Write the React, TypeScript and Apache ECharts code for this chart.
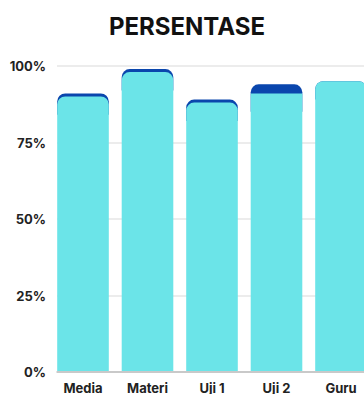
import React, { useEffect, useRef } from "react";
import * as echarts from "echarts";

const categories = ["Media", "Materi", "Uji 1", "Uji 2", "Guru"];
const baseValues = [90, 98, 88, 91, 95];
const totalValues = [91, 99, 89, 94, 95];
const yTicks = [0, 25, 50, 75, 100];

const CYAN = "#6be4e8";
const DARK = "#0a46ad";
const FONT = "Inter, 'DejaVu Sans', sans-serif";

export default function App() {
  const ref = useRef<HTMLDivElement>(null);
  useEffect(() => {
    if (!ref.current) return;
    const chart = echarts.init(ref.current, null, { renderer: "svg" });
    const gridTop = 66;
    const gridH = 306;
    const under = baseValues.map((v) => v - 6);
    chart.setOption({
      animation: false,
      graphic: [
        {
          type: "text",
          x: 187,
          y: 14,
          style: {
            text: "PERSENTASE",
            textAlign: "center",
            textVerticalAlign: "top",
            font: `bold 24px ${FONT}`,
            fill: "#111",
          },
        },
      ],
      grid: [
        { left: 57, right: 0, top: gridTop, height: gridH },
        { left: 50.75, width: 322.5, top: gridTop, height: gridH },
      ],
      xAxis: [
        {
          gridIndex: 0,
          type: "category",
          data: [""],
          axisLine: { show: true, lineStyle: { color: "#bdbdbd", width: 1.5 } },
          axisTick: { show: false },
          axisLabel: { show: false },
          z: 5,
        },
        {
          gridIndex: 1,
          type: "category",
          data: categories,
          axisLine: { show: false },
          axisTick: { show: false },
          axisLabel: {
            margin: 10,
            color: "#222",
            fontWeight: "bold",
            fontSize: 13,
            fontFamily: FONT,
          },
        },
      ],
      yAxis: [
        {
          gridIndex: 0,
          type: "value",
          min: yTicks[0],
          max: yTicks[yTicks.length - 1],
          interval: 25,
          axisLine: { show: false },
          axisTick: { show: false },
          splitLine: { lineStyle: { color: "#e6e6e6", width: 1.5 } },
          axisLabel: {
            formatter: "{value}%",
            margin: 11,
            color: "#222",
            fontWeight: "bold",
            fontSize: 13,
            fontFamily: FONT,
          },
        },
        {
          gridIndex: 1,
          type: "value",
          min: 0,
          max: 100,
          show: false,
          splitLine: { show: false },
        },
      ],
      series: [
        {
          type: "bar",
          xAxisIndex: 1,
          yAxisIndex: 1,
          stack: "cap",
          data: under,
          barCategoryGap: "20%",
          barGap: "-100%",
          itemStyle: { color: "transparent" },
          silent: true,
          z: 2,
        },
        {
          type: "bar",
          xAxisIndex: 1,
          yAxisIndex: 1,
          stack: "cap",
          data: totalValues.map((t, i) => t - under[i]),
          barCategoryGap: "20%",
          barGap: "-100%",
          itemStyle: { color: DARK, borderRadius: [8, 8, 0, 0] },
          z: 2,
        },
        {
          type: "bar",
          xAxisIndex: 1,
          yAxisIndex: 1,
          data: baseValues.map((v, i) => ({
            value: v,
            itemStyle:
              totalValues[i] - v >= 2
                ? { borderRadius: [0, 0, 0, 0] }
                : undefined,
          })),
          barCategoryGap: "20%",
          barGap: "-100%",
          itemStyle: { color: CYAN, borderRadius: [8, 8, 0, 0] },
          z: 3,
        },
      ],
    });
    return () => chart.dispose();
  }, []);
  return (
    <div
      style={{
        position: "fixed",
        left: 0,
        top: 0,
        width: 364,
        height: 394,
        overflow: "hidden",
        background: "#fff",
      }}
    >
      <div ref={ref} style={{ width: 400, height: 394 }} />
    </div>
  );
}
